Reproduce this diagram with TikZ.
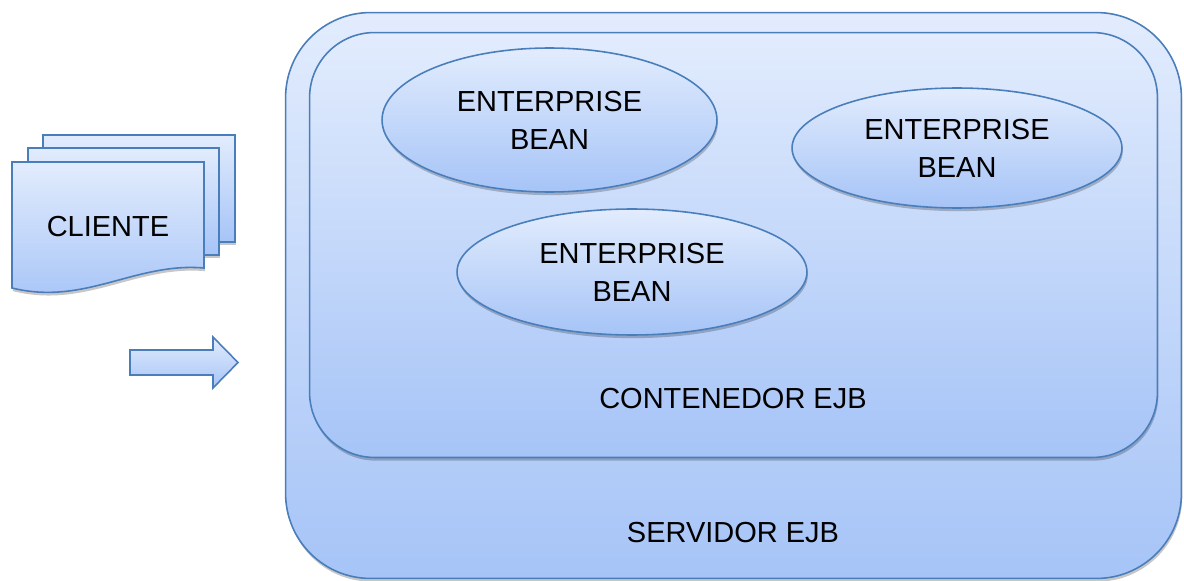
\documentclass[tikz,border=0pt]{standalone}
\usepackage{fontspec}
\setmainfont{Liberation Sans}
\usepackage{tikz}
\usetikzlibrary{shapes.geometric,shadows}

\definecolor{lnblue}{HTML}{4A7EBB}
\definecolor{topblue}{HTML}{E2ECFD}
\definecolor{botblue}{HTML}{A6C4F7}

\begin{document}
\begin{tikzpicture}[x=0.02cm, y=-0.02cm,
  every node/.style={font=\fontsize{16.5}{21.5}\selectfont, text=black},
  blueshade/.style={draw=lnblue, line width=0.9pt, top color=topblue, bottom color=botblue},
  softshadow/.style={drop shadow={shadow xshift=0.5pt, shadow yshift=-1.8pt, opacity=0.22, fill=black}},
  box/.style={blueshade, softshadow, rectangle, inner sep=0pt, outer sep=0pt},
  bean/.style={blueshade, softshadow, ellipse, inner sep=0pt, align=center}]
\useasboundingbox (0,0) rectangle (1184,581);

% Server and container
\node[box, rounded corners=1.7cm, minimum width=17.92cm, minimum height=11.32cm] (servidor) at (733.5,295.5) {};
\node (servlbl) at (733,533) {SERVIDOR EJB};
\node[box, rounded corners=1.3cm, minimum width=16.96cm, minimum height=8.5cm] (contenedor) at (733.5,245) {};
\node (contlbl) at (733,399) {CONTENEDOR EJB};

% Beans
\node[bean, minimum width=6.7cm, minimum height=2.88cm] (bean1) at (549.5,120) {ENTERPRISE\\BEAN};
\node[bean, minimum width=6.6cm, minimum height=2.4cm] (bean2) at (957,148) {ENTERPRISE\\BEAN};
\node[bean, minimum width=7.0cm, minimum height=2.52cm] (bean3) at (632,272) {ENTERPRISE\\BEAN};

% Client documents
\fill[blueshade, softshadow] (43,135) rectangle (235,242);
\fill[blueshade, softshadow] (28,148) rectangle (219,255);
\filldraw[blueshade, softshadow] (12,162) -- (204,162) -- (204,268)
  .. controls (135,262) and (85,306) .. (12,288) -- cycle;
\node (cliente) at (108,227) {CLIENTE};

% Arrow
\filldraw[blueshade] (130,350) -- (213,350) -- (213,337) -- (238,362.5)
  -- (213,388) -- (213,375) -- (130,375) -- cycle;
\end{tikzpicture}
\end{document}
